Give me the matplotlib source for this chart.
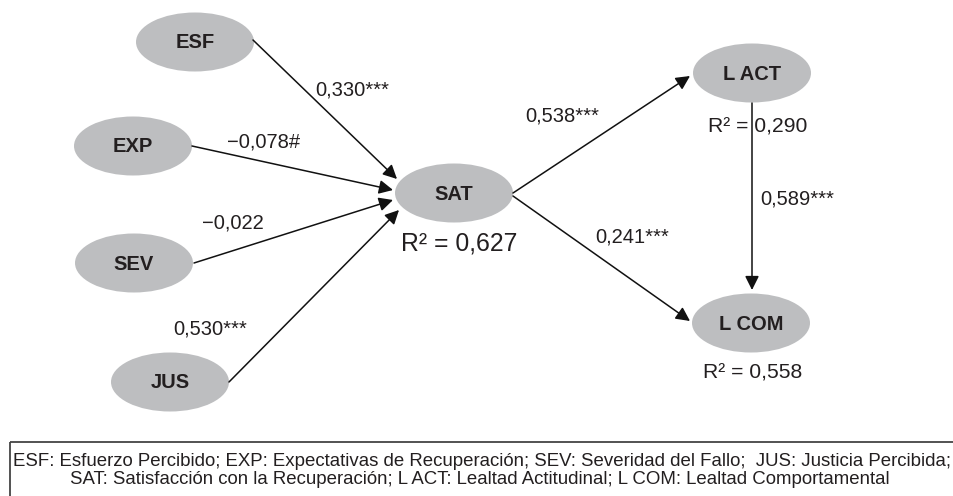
import matplotlib
matplotlib.use("Agg")
from matplotlib import pyplot as plt
from matplotlib.patches import Ellipse, FancyArrowPatch, Rectangle

plt.rcParams['font.family'] = ['Liberation Sans', 'DejaVu Sans']

# constructs and path estimates
constructs = ['ESF', 'EXP', 'SEV', 'JUS', 'SAT', 'L ACT', 'L COM']
paths = [('ESF', 'SAT'), ('EXP', 'SAT'), ('SEV', 'SAT'), ('JUS', 'SAT'),
         ('SAT', 'L ACT'), ('SAT', 'L COM'), ('L ACT', 'L COM')]
coefs = ['0,330', '−0,078', '−0,022', '0,530', '0,538', '0,241', '0,589']
signif = ['***', '#', '', '***', '***', '***', '***']
r2_nodes = ['SAT', 'L ACT', 'L COM']
r2_values = ['0,627', '0,290', '0,558']
legend_lines = [
    'ESF: Esfuerzo Percibido; EXP: Expectativas de Recuperación; SEV: Severidad del Fallo;  JUS: Justicia Percibida;',
    'SAT: Satisfacción con la Recuperación; L ACT: Lealtad Actitudinal; L COM: Lealtad Comportamental',
]

# layout (pixel coordinates, y downwards)
node_xy = {'ESF': (195, 42), 'EXP': (133, 146), 'SEV': (134, 263), 'JUS': (170, 382),
           'SAT': (454, 193), 'L ACT': (752, 73), 'L COM': (751, 323)}
node_w, node_h = 118, 59
arrow_offsets = [((58, -2), (-57, -14)), ((59, 0), (-61, -3)), ((60, 0), (-61, 7)),
                 ((59, 0), (-55, 17)), ((59, 0), (-62, 3)), ((59, 3), (-61, -2)),
                 ((0, 30), (1, -33))]
coef_xy = [(315, 90), (227, 142), (202, 223), (173, 329), (525, 116), (595, 237), (760, 199)]
r2_xy = {'SAT': (401, 243, 17.8), 'L ACT': (708, 127, 15.2), 'L COM': (703, 373, 15.2)}

fig = plt.figure(figsize=(9.54, 4.96), dpi=100)
ax = fig.add_axes([0, 0, 1, 1])
ax.set_xlim(0, 954)
ax.set_ylim(496, 0)
ax.axis('off')

for name in constructs:
    cx, cy = node_xy[name]
    ax.add_patch(Ellipse((cx, cy), node_w, node_h, facecolor='#bdbec0', edgecolor='none'))
    ax.text(cx, cy + 1, name, ha='center', va='center', fontsize=14.5,
            fontweight='bold', color='#231f20')

for (src, dst), (o1, o2) in zip(paths, arrow_offsets):
    x1, y1 = node_xy[src]
    x2, y2 = node_xy[dst]
    ax.add_patch(FancyArrowPatch((x1 + o1[0], y1 + o1[1]), (x2 + o2[0], y2 + o2[1]),
                                 arrowstyle='-|>', mutation_scale=21, lw=1.1,
                                 color='#111111', shrinkA=0, shrinkB=0))

for c, s, (tx, ty) in zip(coefs, signif, coef_xy):
    ax.text(tx, ty, c + s, ha='left', va='center', fontsize=14.5, color='#231f20')

for name, val in zip(r2_nodes, r2_values):
    tx, ty, fs = r2_xy[name]
    ax.text(tx, ty, 'R² = ' + val, ha='left', va='center', fontsize=fs, color='#231f20')

ax.add_patch(Rectangle((10, 442), 1000, 100, facecolor='none', edgecolor='#444444', lw=1.3))
ax.text(13, 462, legend_lines[0], ha='left', va='center', fontsize=13.4, color='#231f20')
ax.text(480, 479, legend_lines[1], ha='center', va='center', fontsize=13.4, color='#231f20')

fig.savefig('out.png', dpi=100)
